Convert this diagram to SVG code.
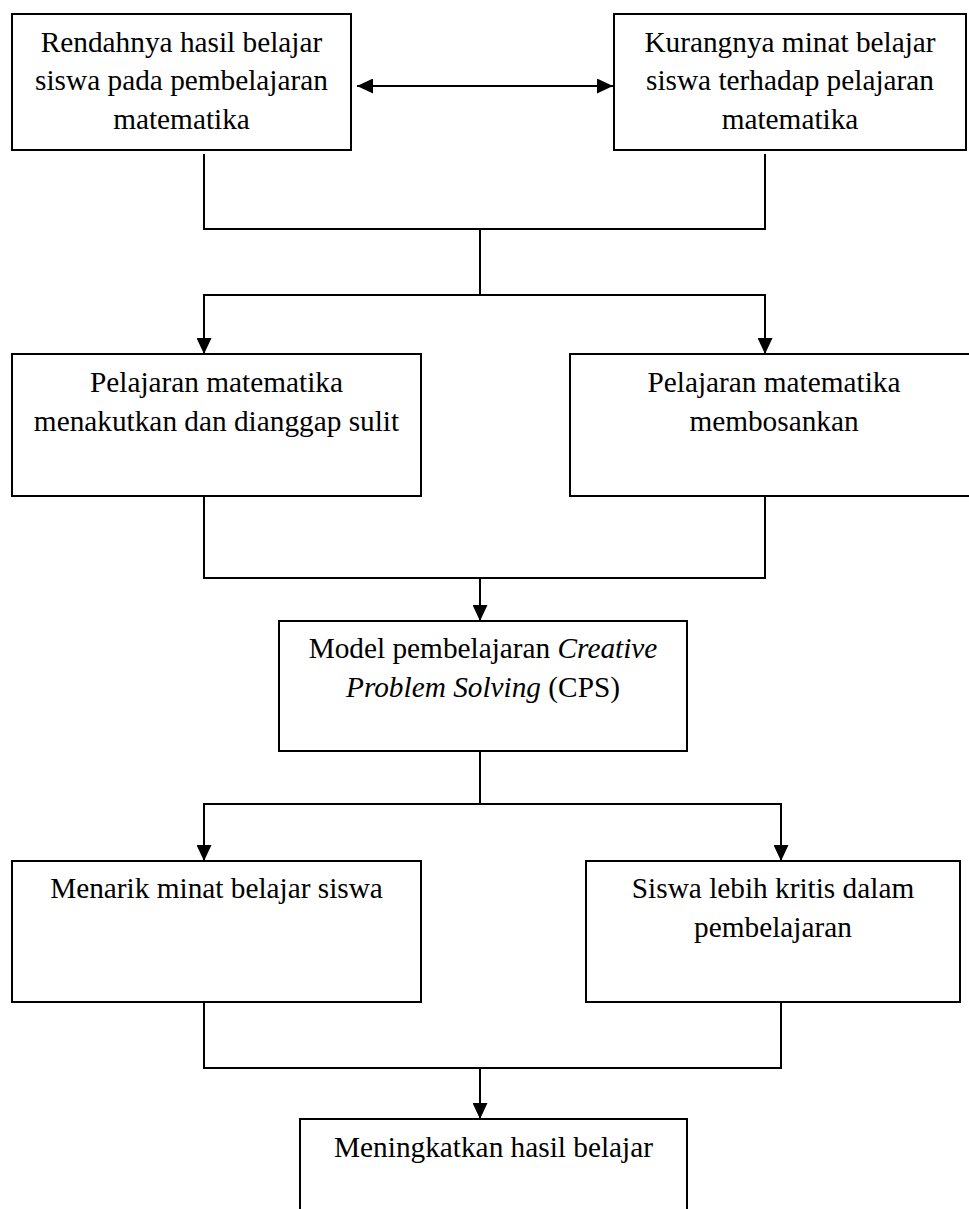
<svg xmlns="http://www.w3.org/2000/svg" width="969" height="1209" viewBox="0 0 969 1209">
<style>
.box{fill:#fff;stroke:#000;stroke-width:2}
.t{font-family:"Liberation Serif","Times New Roman",serif;font-size:29.3px;fill:#000;text-anchor:middle}
.c{fill:none;stroke:#000;stroke-width:2}
</style>
<defs>
<marker id="ah" markerUnits="userSpaceOnUse" markerWidth="16" markerHeight="15" refX="16" refY="7.5" orient="auto-start-reverse">
<path d="M0,0 L16,7.5 L0,15 Z" fill="#000"/>
</marker>
</defs>
<rect width="969" height="1209" fill="#fff"/>
<g id="connectors">
<line class="c" x1="357" y1="86" x2="613" y2="86" marker-start="url(#ah)" marker-end="url(#ah)"/>
<path class="c" d="M204,154 V229 H765 V154"/>
<path class="c" d="M480,229 V295"/>
<path class="c" d="M480,295 H204 V354" marker-end="url(#ah)"/>
<path class="c" d="M480,295 H765 V354" marker-end="url(#ah)"/>
<path class="c" d="M204,496 V578 H765 V496"/>
<path class="c" d="M480,578 V621" marker-end="url(#ah)"/>
<path class="c" d="M480,751 V804"/>
<path class="c" d="M480,804 H204 V861" marker-end="url(#ah)"/>
<path class="c" d="M480,804 H781 V861" marker-end="url(#ah)"/>
<path class="c" d="M204,1002 V1068 H781 V1002"/>
<path class="c" d="M480,1068 V1119" marker-end="url(#ah)"/>
</g>
<g id="n1">
<rect class="box" x="12" y="14" width="339" height="136"/>
<text class="t" x="181.5" y="51.5">Rendahnya hasil belajar</text>
<text class="t" x="181.5" y="90">siswa pada pembelajaran</text>
<text class="t" x="181.5" y="128.5">matematika</text>
</g>
<g id="n2">
<rect class="box" x="614" y="14" width="352" height="136"/>
<text class="t" x="790" y="51.5">Kurangnya minat belajar</text>
<text class="t" x="790" y="90">siswa terhadap pelajaran</text>
<text class="t" x="790" y="128.5">matematika</text>
</g>
<g id="n3">
<rect class="box" x="12" y="354" width="409" height="142"/>
<text class="t" x="216.5" y="392">Pelajaran matematika</text>
<text class="t" x="216.5" y="430.5">menakutkan dan dianggap sulit</text>
</g>
<g id="n4">
<rect class="box" x="570" y="354" width="408" height="142"/>
<text class="t" x="774" y="392">Pelajaran matematika</text>
<text class="t" x="774" y="430.5">membosankan</text>
</g>
<g id="n5">
<rect class="box" x="279" y="621" width="408" height="130"/>
<text class="t" x="483" y="658">Model pembelajaran <tspan font-style="italic">Creative</tspan></text>
<text class="t" x="483" y="697"><tspan font-style="italic">Problem Solving</tspan> (CPS)</text>
</g>
<g id="n6">
<rect class="box" x="12" y="861" width="409" height="141"/>
<text class="t" x="216.5" y="898">Menarik minat belajar siswa</text>
</g>
<g id="n7">
<rect class="box" x="586" y="861" width="374" height="141"/>
<text class="t" x="773" y="898">Siswa lebih kritis dalam</text>
<text class="t" x="773" y="937">pembelajaran</text>
</g>
<g id="n8">
<rect class="box" x="300" y="1119" width="387" height="100"/>
<text class="t" x="493.5" y="1157">Meningkatkan hasil belajar</text>
</g>
</svg>
